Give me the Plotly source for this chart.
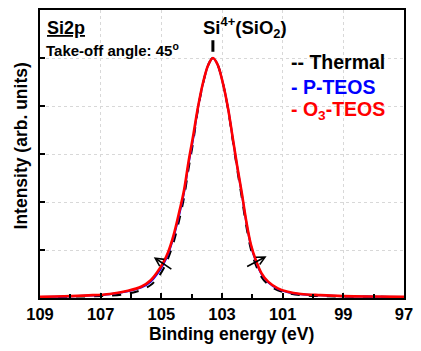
import plotly.graph_objects as go

# ---- data (binding energy in eV, intensity in arb. units) ----
binding_energy = [109.0, 108.2, 107.4, 106.7, 106.1, 105.65, 105.35, 105.12, 104.92, 104.78,
                  104.6, 104.4, 104.25, 104.1, 103.95, 103.8, 103.62, 103.45, 103.3, 103.15,
                  102.98, 102.8, 102.65, 102.5, 102.35, 102.2, 102.05, 101.88, 101.7, 101.48,
                  101.16, 100.83, 100.4, 99.76, 99.0, 98.0, 97.0]

thermal = [0.02, 0.025, 0.035, 0.05, 0.09, 0.17, 0.27, 0.42, 0.62, 0.82,
           1.15, 1.65, 2.1, 2.7, 3.25, 3.9, 4.48, 4.86, 5.0, 4.87,
           4.5, 3.93, 3.3, 2.68, 2.1, 1.5, 1.02, 0.68, 0.44, 0.28,
           0.16, 0.1, 0.06, 0.04, 0.03, 0.025, 0.02]

p_teos = [0.022, 0.032, 0.05, 0.08, 0.14, 0.22, 0.34, 0.51, 0.72, 0.91,
          1.26, 1.76, 2.2, 2.8, 3.32, 3.93, 4.49, 4.86, 5.0, 4.87,
          4.5, 3.95, 3.34, 2.74, 2.18, 1.58, 1.1, 0.76, 0.5, 0.33,
          0.19, 0.12, 0.08, 0.055, 0.037, 0.028, 0.022]

o3_teos = [0.025, 0.035, 0.055, 0.085, 0.15, 0.24, 0.37, 0.55, 0.76, 0.95,
           1.3, 1.82, 2.25, 2.85, 3.38, 3.95, 4.5, 4.86, 5.0, 4.87,
           4.5, 3.95, 3.35, 2.75, 2.2, 1.6, 1.12, 0.78, 0.52, 0.34,
           0.2, 0.13, 0.085, 0.06, 0.04, 0.03, 0.025]

x_tick_values = [109, 107, 105, 103, 101, 99, 97]
x_tick_labels = ["109", "107", "105", "103", "101", "99", "97"]
y_tick_values = [0, 1, 2, 3, 4, 5, 6]

peak_energy = 103.3
series_names = ["-- Thermal", "- P-TEOS", "- O<sub>3</sub>-TEOS"]
series_colors = ["#000000", "#0000FF", "#FF0000"]

# arrows (tail -> head) in data coordinates
arrow_tails = [(104.62, 0.58), (102.22, 0.64)]
arrow_heads = [(105.25, 0.85), (101.53, 0.87)]

FONT = "Liberation Sans, Arial, sans-serif"

fig = go.Figure()
fig.add_trace(go.Scatter(x=binding_energy, y=thermal, mode="lines", line_shape="spline",
                         line=dict(color="#000000", width=2, dash="dash"), name="Thermal"))
fig.add_trace(go.Scatter(x=binding_energy, y=p_teos, mode="lines", line_shape="spline",
                         line=dict(color="#0000FF", width=2), name="P-TEOS"))
fig.add_trace(go.Scatter(x=binding_energy, y=o3_teos, mode="lines", line_shape="spline",
                         line=dict(color="#FF0000", width=2.6), name="O3-TEOS"))

W, H = 421, 351
ml, mr, mt, mb = 40, 8, 10, 53
pw, ph = W - ml - mr, H - mt - mb


def px2paper(px, py):
    return (px - ml) / pw, (H - mb - py) / ph


annotations = []

def add_text(text, px, py, size, color="#000000", xanchor="left", yanchor="middle", angle=0):
    x, y = px2paper(px, py)
    annotations.append(dict(text=text, x=x, y=y, xref="paper", yref="paper",
                            xanchor=xanchor, yanchor=yanchor, showarrow=False,
                            textangle=angle, borderpad=0,
                            font=dict(family=FONT, size=size, color=color)))

add_text("<b><u>Si2p</u></b>", 46, 28, 18)
add_text("<b>Take-off angle: 45<sup>o</sup></b>", 45, 50, 15)
add_text("<b>Si<sup>4+</sup>(SiO<sub>2</sub>)</b>", 206, 27, 18.5)
for i, (name, col) in enumerate(zip(series_names, series_colors)):
    add_text("<b>" + name + "</b>", 296, [62, 87, 110][i], 19.5, color=col)

add_text("<b>Binding energy (eV)</b>", 236, 334, 17.5, xanchor="center")
add_text("<b>Intensity (arb. units)</b>", 21, 146, 17.5, xanchor="center", angle=-90)

for (tx, ty), (hx, hy) in zip(arrow_tails, arrow_heads):
    annotations.append(dict(x=hx, y=hy, ax=tx, ay=ty, xref="x", yref="y", axref="x", ayref="y",
                            showarrow=True, arrowhead=5, arrowsize=1.0, arrowwidth=1.6,
                            arrowcolor="#000000", text=""))

fig.add_shape(type="line", xref="x", yref="y", x0=peak_energy, x1=peak_energy,
              y0=5.13, y1=5.37, line=dict(color="#000000", width=3))

fig.update_layout(
    width=W, height=H,
    margin=dict(l=ml, r=mr, t=mt, b=mb, pad=0),
    paper_bgcolor="#ffffff", plot_bgcolor="#ffffff",
    showlegend=False,
    annotations=annotations,
    font=dict(family=FONT, color="#000000"),
)
fig.update_xaxes(range=[109, 97], tickvals=x_tick_values, ticktext=["<b>%s</b>" % t for t in x_tick_labels],
                 tickfont=dict(family=FONT, size=16.5, color="#000000"),
                 ticklabeloverflow="allow",
                 ticks="inside", ticklen=5, tickwidth=1.5, tickcolor="#000000",
                 showline=True, linecolor="#000000", linewidth=2, mirror=True,
                 showgrid=True, gridcolor="#d8d8d8", gridwidth=1, griddash="dot",
                 zeroline=False,
                 minor=dict(dtick=1, ticks="inside", ticklen=4, tickwidth=1.5,
                            tickcolor="#000000", showgrid=False))
fig.update_yaxes(range=[0, 6], tickvals=y_tick_values, showticklabels=False,
                 ticks="inside", ticklen=5, tickwidth=1.5, tickcolor="#000000",
                 showline=True, linecolor="#000000", linewidth=2, mirror=True,
                 showgrid=True, gridcolor="#d8d8d8", gridwidth=1, griddash="dot",
                 zeroline=False)

fig.write_html("out.html", config={"displayModeBar": False},
               post_script="document.body.style.margin='0';")
